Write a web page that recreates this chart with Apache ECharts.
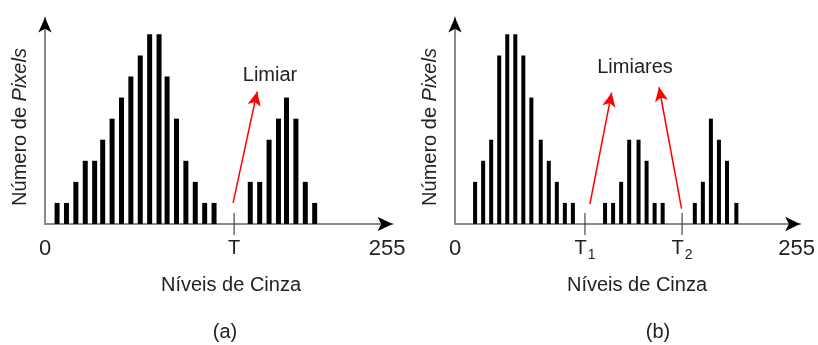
<!DOCTYPE html>
<html>
<head>
<meta charset="utf-8">
<script src="https://cdn.jsdelivr.net/npm/echarts@6/dist/echarts.min.js"></script>
<style>
  html, body { margin: 0; padding: 0; background: #fff; }
  #chart { width: 818px; height: 345px; }
</style>
</head>
<body>
<div id="chart"></div>
<script>
// histograma (a): niveis de cinza e numero de pixels (em "unidades" de altura)
var levelsA = [9, 16, 23, 30, 37, 43, 50, 57, 64, 71, 78, 85, 91, 98, 105, 112, 119, 126,
               153, 160, 167, 174, 180, 187, 194, 201];
var countsA = [1, 1, 2, 3, 3, 4, 5, 6, 7, 8, 9, 9, 7, 5, 3, 2, 1, 1,
               2, 2, 4, 5, 6, 5, 2, 1];
// histograma (b)
var levelsB = [15, 21, 27, 33, 39, 45, 51, 57, 64, 70, 76, 82, 88,
               112, 118, 124, 130, 137, 143, 149, 155,
               179, 185, 191, 197, 203, 210];
var countsB = [2, 3, 4, 8, 9, 9, 8, 6, 4, 3, 2, 1, 1,
               1, 1, 2, 4, 4, 3, 1, 1,
               1, 2, 5, 4, 3, 1];

// limiares e rotulos do eixo x
var thresholdsA = [141];
var thresholdsB = [97, 169.5];
var tickValuesA = [0, 141, 255];
var tickLabelsA = ['0', 'T', '255'];
var tickValuesB = [0, 97, 169.5, 255];
var tickLabelsB = ['0', 'T1', 'T2', '255'];

// setas vermelhas [inicio, ponta] em coordenadas (nivel, contagem)
var arrowsA = [[[140.2, 1.0], [158.1, 6.28]]];
var arrowsB = [[[100.7, 0.95], [116.9, 6.23]], [[169.1, 0.73], [152.3, 6.49]]];

var FONT = '"Liberation Sans", Arial, sans-serif';
var X_MAX_A = 259, X_MAX_B = 257.6, Y_MAX = 9.8;

var chart = echarts.init(document.getElementById('chart'));

function fmtTick(values, labels) {
	return function (v) {
		for (var i = 0; i < values.length; i++) {
			if (Math.abs(values[i] - v) < 1e-6) {
				var s = labels[i];
				if (s[0] === 'T') return '{t|T}' + (s.length > 1 ? '{s|' + s.slice(1) + '}' : '');
				return '{n|' + s + '}';
			}
		}
		return '';
	};
}

var tickRich = {
	n: { fontSize: 22, fontFamily: FONT, color: '#222', lineHeight: 24, verticalAlign: 'bottom' },
	t: { fontSize: 20, fontFamily: FONT, color: '#222', lineHeight: 22, verticalAlign: 'bottom' },
	s: { fontSize: 14, fontFamily: FONT, color: '#222', lineHeight: 14, verticalAlign: 'bottom', padding: [0, 0, -4, 1] }
};

function xAxes(grid, max, values, labels) {
	return [
		{
			type: 'value', gridIndex: grid, min: 0, max: max, position: 'bottom',
			splitLine: { show: false }, axisTick: { show: false },
			axisLine: { onZero: false, lineStyle: { color: '#8a8a8a', width: 2 } },
			axisLabel: {
				customValues: values, margin: 12, showMinLabel: true, showMaxLabel: true,
				formatter: fmtTick(values, labels), rich: tickRich
			}
		},
		{
			// so para a ponta de seta preta
			type: 'value', gridIndex: grid, min: 0, max: max, position: 'bottom',
			splitLine: { show: false }, axisTick: { show: false }, axisLabel: { show: false },
			axisLine: { onZero: false, symbol: ['none', 'arrow'], symbolSize: [11, 15],
				lineStyle: { color: '#000', width: 0.01 } }
		}
	];
}

function yAxes(grid) {
	return [
		{
			type: 'value', gridIndex: grid, min: 0, max: Y_MAX, position: 'left',
			splitLine: { show: false }, axisTick: { show: false }, axisLabel: { show: false },
			axisLine: { show: true, onZero: false, lineStyle: { color: '#8a8a8a', width: 2 } }
		},
		{
			type: 'value', gridIndex: grid, min: 0, max: Y_MAX, position: 'left',
			splitLine: { show: false }, axisTick: { show: false }, axisLabel: { show: false },
			axisLine: { show: true, onZero: false, symbol: ['none', 'arrow'], symbolSize: [10, 15],
				lineStyle: { color: '#000', width: 0.01 } }
		}
	];
}

function pairs(xs, ys) { return xs.map(function (x, i) { return [x, ys[i]]; }); }

function arrowLines(list) {
	return {
		silent: true,
		symbol: ['none', 'arrow'],
		symbolSize: [10, 14],
		label: { show: false },
		lineStyle: { color: '#ff0000', width: 1.5, type: 'solid' },
		emphasis: { disabled: true },
		data: list.map(function (a) { return [{ coord: a[0] }, { coord: a[1] }]; })
	};
}

function txt(x, y, text, size, extra) {
	var o = {
		type: 'text', x: x, y: y, z: 10,
		style: { text: text, fontSize: size, fontFamily: FONT, fill: '#222',
			textAlign: 'center', textVerticalAlign: 'middle', verticalAlign: 'middle' }
	};
	if (extra) for (var k in extra) o[k] = extra[k];
	return o;
}

function yName(x) {
	return {
		type: 'text', x: x, y: 127, rotation: Math.PI / 2, z: 10,
		style: {
			text: 'Número de {i|Pixels}', fontSize: 20, fontFamily: FONT, fill: '#222',
			textAlign: 'center', textVerticalAlign: 'middle', verticalAlign: 'middle',
			rich: { i: { fontSize: 20, fontFamily: FONT, fontStyle: 'italic', fill: '#222', color: '#222' } }
		}
	};
}

var option = {
	animation: false,
	backgroundColor: '#fff',
	grid: [
		{ left: 45, top: 17.5, width: 347.5, height: 206.5 },
		{ left: 455, top: 17.5, width: 345.5, height: 206.5 }
	],
	xAxis: xAxes(0, X_MAX_A, tickValuesA, tickLabelsA).concat(xAxes(1, X_MAX_B, tickValuesB, tickLabelsB)),
	yAxis: yAxes(0).concat(yAxes(1)),
	series: [
		{
			type: 'bar', xAxisIndex: 0, yAxisIndex: 0, barWidth: 5,
			itemStyle: { color: '#000' }, data: pairs(levelsA, countsA)
		},
		{
			type: 'scatter', xAxisIndex: 0, yAxisIndex: 0, symbol: 'rect', symbolSize: [1.5, 22],
			itemStyle: { color: '#444' }, silent: true,
			data: thresholdsA.map(function (t) { return [t, 0]; }),
			markLine: arrowLines(arrowsA)
		},
		{
			type: 'bar', xAxisIndex: 2, yAxisIndex: 2, barWidth: 4,
			itemStyle: { color: '#000' }, data: pairs(levelsB, countsB)
		},
		{
			type: 'scatter', xAxisIndex: 2, yAxisIndex: 2, symbol: 'rect', symbolSize: [1.5, 22],
			itemStyle: { color: '#444' }, silent: true,
			data: thresholdsB.map(function (t) { return [t, 0]; }),
			markLine: arrowLines(arrowsB)
		}
	],
	graphic: [
		yName(20),
		yName(430),
		txt(270, 75, 'Limiar', 20),
		txt(635, 67, 'Limiares', 20),
		txt(231, 285, 'Níveis de Cinza', 20),
		txt(637, 285, 'Níveis de Cinza', 20),
		txt(225, 332, '(a)', 20),
		txt(658, 332, '(b)', 20)
	]
};

chart.setOption(option);
</script>
</body>
</html>
